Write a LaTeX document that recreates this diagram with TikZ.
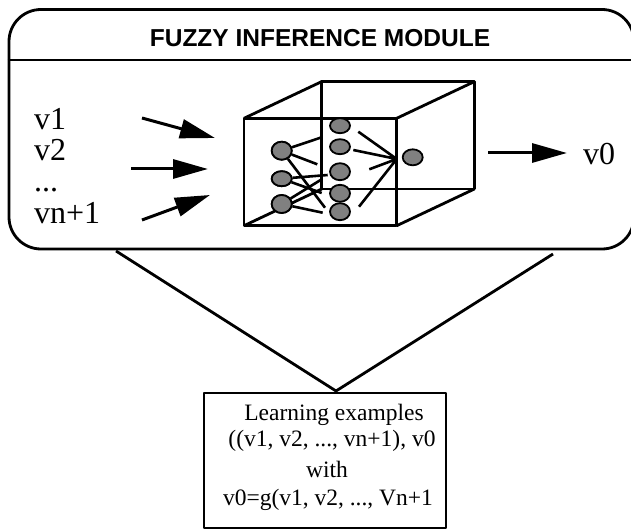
\documentclass[tikz,border=0pt]{standalone}
\usepackage{fontspec}
\setmainfont{Liberation Serif}
\setsansfont{Liberation Sans}
\usetikzlibrary{arrows.meta,shapes.geometric}
\definecolor{cellgray}{RGB}{128,128,128}
\begin{document}
\begin{tikzpicture}[x=1pt,y=-1pt,line join=round,
  frame/.style={line width=2.8pt},
  edge/.style={line width=2.8pt},
  link/.style={line width=2.6pt},
  flow/.style={line width=3pt,-{Triangle[length=35pt,width=19pt]}},
  cell/.style={ellipse,draw,line width=1.8pt,fill=cellgray,inner sep=0pt,
    minimum width=20pt,minimum height=#1},
  cell/.default=17pt,
  varlabel/.style={anchor=base west,inner sep=0pt,font=\fontsize{32}{36}\selectfont},
  exline/.style={anchor=base,inner sep=0pt,font=\fontsize{23.5}{28}\selectfont}]
\useasboundingbox (0,0) rectangle (631,529);
\clip (0,0) rectangle (631,529);

% module frame with its title bar
\node[draw,frame,rounded corners=32pt,minimum width=625pt,minimum height=239.5pt,
  inner sep=0pt] (module) at (321.5,129.25) {};
\draw[frame] (module.west |- 0,60) coordinate (barL) -- (module.east |- 0,60) coordinate (barR);
\node[inner sep=0pt,font=\sffamily\bfseries\fontsize{24.5}{28}\selectfont] (title) at (320,38)
  {FUZZY INFERENCE MODULE};

% inputs
\node[varlabel] (v1) at (34,130) {v1};
\node[varlabel] (v2) at (34,161) {v2};
\node[varlabel] (vd) at (34,192) {...};
\node[varlabel] (vn) at (34,223) {vn+1};
\coordinate (a1s) at (142,118);  \coordinate (a1e) at (215,138);
\coordinate (a2s) at (131,169);  \coordinate (a2e) at (208,169);
\coordinate (a3s) at (142,220);  \coordinate (a3e) at (210,195);
\draw[flow] (a1s) -- (a1e);
\draw[flow] (a2s) -- (a2e);
\draw[flow] (a3s) -- (a3e);

% the cube
\coordinate (f1) at (244,118.3);  \coordinate (f2) at (396.7,118.3);
\coordinate (f3) at (396.7,225.7); \coordinate (f4) at (244,225.7);
\coordinate (b1) at (321.7,81.6);  \coordinate (b2) at (474.4,81.6);
\coordinate (b3) at (474.4,189);   \coordinate (b4) at (321.7,189);
\draw[edge] (b1) -- (b2) -- (b3) -- (b4) -- cycle;
\draw[edge] (f1) -- (f2) -- (f3) -- (f4) -- cycle;
\draw[edge] (f1) -- (b1) (f2) -- (b2) (f3) -- (b3) (f4) -- (b4);

% hidden-layer wiring
\coordinate (s1) at (321.7,137.3);
\coordinate (s2) at (317.3,164.3);
\coordinate (s3) at (325,207.7);
\coordinate (s4) at (327.7,175);
\coordinate (s5) at (321.7,193);
\coordinate (s6) at (321.7,179.3);
\coordinate (s7) at (322.7,212.7);
\coordinate (hub) at (396.7,159);
\coordinate (t1) at (358.3,131.7);
\coordinate (t2) at (353.3,150);
\coordinate (t3) at (369.3,169.3);
\coordinate (t4) at (359,206.7);

\node[cell=18pt] (n1) at (281.7,150.7) {};
\node[cell=15pt] (n2) at (281.7,178.7) {};
\node[cell=18pt] (n3) at (281.7,204) {};
\draw[link] (n1) -- (s1) (n1) -- (s2) (n1) -- (s3);
\draw[link] (n2) -- (s4) (n2) -- (s5);
\draw[link] (n3) -- (s6) (n3) -- (s7);
\node[cell=18pt] at (n1) {};
\node[cell=15pt] at (n2) {};
\node[cell=18pt] at (n3) {};

\node[cell=15pt] (m1) at (340,125.7) {};
\node[cell=15pt] (m2) at (340,146.7) {};
\node[cell=17pt] (m3) at (340,171.7) {};
\node[cell=17pt] (m4) at (340,193.3) {};
\node[cell=17pt] (m5) at (340,211.7) {};
\draw[link] (t1) -- (hub) (t2) -- (hub) (t3) -- (hub) (t4) -- (hub);
\node[cell=16pt] (out) at (412.7,157.3) {};

% output
\coordinate (os) at (488,153); \coordinate (oe) at (567,153);
\draw[flow] (os) -- (oe);
\node[varlabel] (v0) at (583,165) {v0};

% learning examples
\node[draw,line width=2.4pt,minimum width=242pt,minimum height=135pt,inner sep=0pt]
  (learn) at (325,460.5) {};
\coordinate (vl) at (116,251);
\coordinate (vr) at (553,254);
\coordinate (apex) at (336,391);
\draw[frame] (vl) -- (apex) -- (vr);
\node[exline] (e1) at (334,420) {Learning examples};
\node[exline] (e2) at (332,446) {((v1, v2, ..., vn+1), v0};
\node[exline] (e3) at (327,477) {with};
\node[exline] (e4) at (328,505) {v0=g(v1, v2, ..., Vn+1};
\end{tikzpicture}
\end{document}
